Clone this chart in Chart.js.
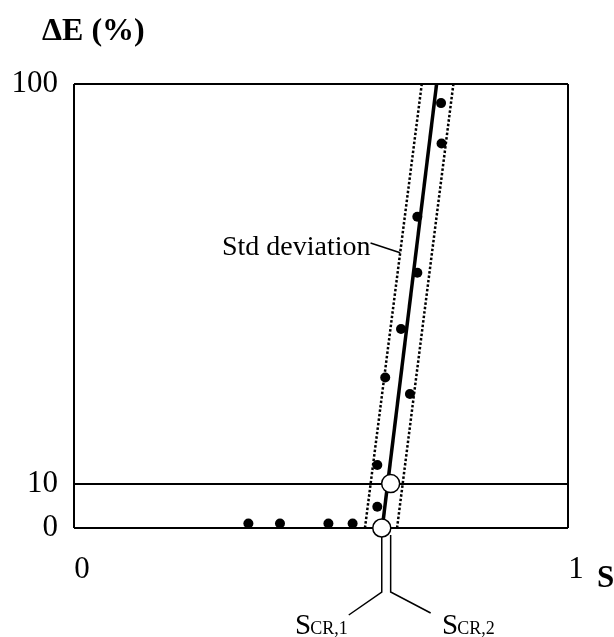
<!DOCTYPE html>
<html>
<head>
<meta charset="utf-8">
<script src="https://cdn.jsdelivr.net/npm/chart.js@4"></script>
<style>
  html, body { margin: 0; padding: 0; background: #fff; }
  canvas { display: block; }
</style>
</head>
<body>
<canvas id="chart" width="614" height="637"></canvas>
<script>
// ---- data ----
const xTicks = [0, 1];
const yTicks = [0, 10, 100];
const yTitle = "\u0394E (%)";
const xTitle = "S";

// measured points (S, ΔE)
const measS = [0.353, 0.417, 0.515, 0.564, 0.614, 0.614, 0.630, 0.680, 0.662, 0.695, 0.695, 0.744, 0.743];
const measE = [1, 1, 1, 1, 4.8, 14.2, 33.9, 30.2, 44.8, 57.5, 70.1, 86.6, 95.7];

// fitted line and std deviation band
const fitS = [0.624, 0.734];
const lowerS = [0.589, 0.704];
const upperS = [0.654, 0.768];
const lineE = [0, 100];

// critical points
const criticalS = [0.623, 0.641];
const criticalE = [0, 10];
const criticalNames = ["CR,1", "CR,2"];

const bandLabel = "Std deviation";
const leaderE = 62;

const serif = '"Liberation Serif", "DejaVu Serif", serif';

function pts(xs, ys) {
    return xs.map((v, i) => ({ x: v, y: ys[i] }));
}

// =======================
// ANNOTATIONS
// =======================
const annotations = {
    id: "annotations",
    afterDatasetsDraw(chart) {
        const { ctx, scales: { x, y } } = chart;
        ctx.save();
        ctx.fillStyle = "#000";
        ctx.strokeStyle = "#000";
        ctx.textBaseline = "alphabetic";

        // axis titles
        ctx.font = `bold 32px ${serif}`;
        ctx.fillText(yTitle, 42, 40);
        ctx.font = `bold 31px ${serif}`;
        ctx.fillText(xTitle, 597, 587);

        // std deviation label + leader
        ctx.font = `28px ${serif}`;
        ctx.fillText(bandLabel, 222, 255);
        const w = ctx.measureText(bandLabel).width;
        const sAt = lowerS[0] + (lowerS[1] - lowerS[0]) * (leaderE - lineE[0]) / (lineE[1] - lineE[0]);
        ctx.lineWidth = 1.5;
        ctx.beginPath();
        ctx.moveTo(222 + w, 243);
        ctx.lineTo(x.getPixelForValue(sAt), y.getPixelForValue(leaderE));
        ctx.stroke();

        // fork below critical points
        const x1 = x.getPixelForValue(criticalS[0]);
        const x2 = x.getPixelForValue(criticalS[1]);
        const yTop = y.getPixelForValue(0) + 9;
        const yFork = 592;
        ctx.beginPath();
        ctx.moveTo(x1, yTop);
        ctx.lineTo(x1, yFork);
        ctx.lineTo(x1 - 33, 615);
        ctx.moveTo(x2, yTop - 2);
        ctx.lineTo(x2, yFork);
        ctx.lineTo(x2 + 40, 613);
        ctx.stroke();

        // S_CR labels
        const labelX = [295, 442];
        criticalNames.forEach((name, i) => {
            ctx.font = `29px ${serif}`;
            ctx.fillText("S", labelX[i], 634);
            const sw = ctx.measureText("S").width;
            ctx.font = `18px ${serif}`;
            ctx.fillText(name, labelX[i] + sw - 1, 634);
        });
        ctx.restore();
    }
};

const bgPlugin = {
    id: "bg",
    beforeDraw(chart) {
        const ctx = chart.ctx;
        ctx.save();
        ctx.fillStyle = "#fff";
        ctx.fillRect(0, 0, chart.width, chart.height);
        ctx.restore();
    }
};

// =======================
// CHART
// =======================
const ctx = document.getElementById("chart").getContext("2d");
new Chart(ctx, {
    type: "scatter",
    data: {
        datasets: [
            {
                label: "critical",
                data: pts(criticalS, criticalE),
                pointRadius: 9,
                pointBackgroundColor: "#fff",
                pointBorderColor: "#000",
                pointBorderWidth: 1.5,
                clip: false,
                order: 0
            },
            {
                label: "measured",
                data: pts(measS, measE),
                pointRadius: 5,
                pointBackgroundColor: "#000",
                pointBorderWidth: 0,
                clip: false,
                order: 1
            },
            {
                label: "fit",
                data: pts(fitS, lineE),
                showLine: true,
                borderColor: "#000",
                borderWidth: 3.5,
                pointRadius: 0,
                order: 2
            },
            {
                label: "lower",
                data: pts(lowerS, lineE),
                showLine: true,
                borderColor: "#000",
                borderWidth: 2.5,
                borderDash: [2.5, 2],
                pointRadius: 0,
                order: 3
            },
            {
                label: "upper",
                data: pts(upperS, lineE),
                showLine: true,
                borderColor: "#000",
                borderWidth: 2.5,
                borderDash: [2.5, 2],
                pointRadius: 0,
                order: 3
            }
        ]
    },
    options: {
        responsive: false,
        animation: false,
        devicePixelRatio: 1,
        layout: { padding: { left: 0, right: 46, top: 84, bottom: 0 } },
        plugins: {
            legend: { display: false },
            tooltip: { enabled: false }
        },
        scales: {
            x: {
                type: "linear",
                min: 0,
                max: 1,
                afterBuildTicks: s => { s.ticks = xTicks.map(v => ({ value: v })); },
                afterFit: s => { s.height = 109; },
                grid: { color: "#000", lineWidth: 2, drawTicks: false },
                border: { display: false },
                ticks: {
                    color: "#000",
                    font: { family: serif, size: 31 },
                    padding: 23,
                    labelOffset: 8,
                    maxRotation: 0,
                    callback: v => String(v)
                }
            },
            y: {
                type: "linear",
                min: 0,
                max: 100,
                afterBuildTicks: s => { s.ticks = yTicks.map(v => ({ value: v })); },
                afterFit: s => { s.width = 74; },
                grid: { color: "#000", lineWidth: 2, drawTicks: false },
                border: { display: false },
                ticks: {
                    color: "#000",
                    font: { family: serif, size: 31 },
                    padding: 16,
                    callback: v => String(v)
                }
            }
        }
    },
    plugins: [bgPlugin, annotations]
});
</script>
</body>
</html>
